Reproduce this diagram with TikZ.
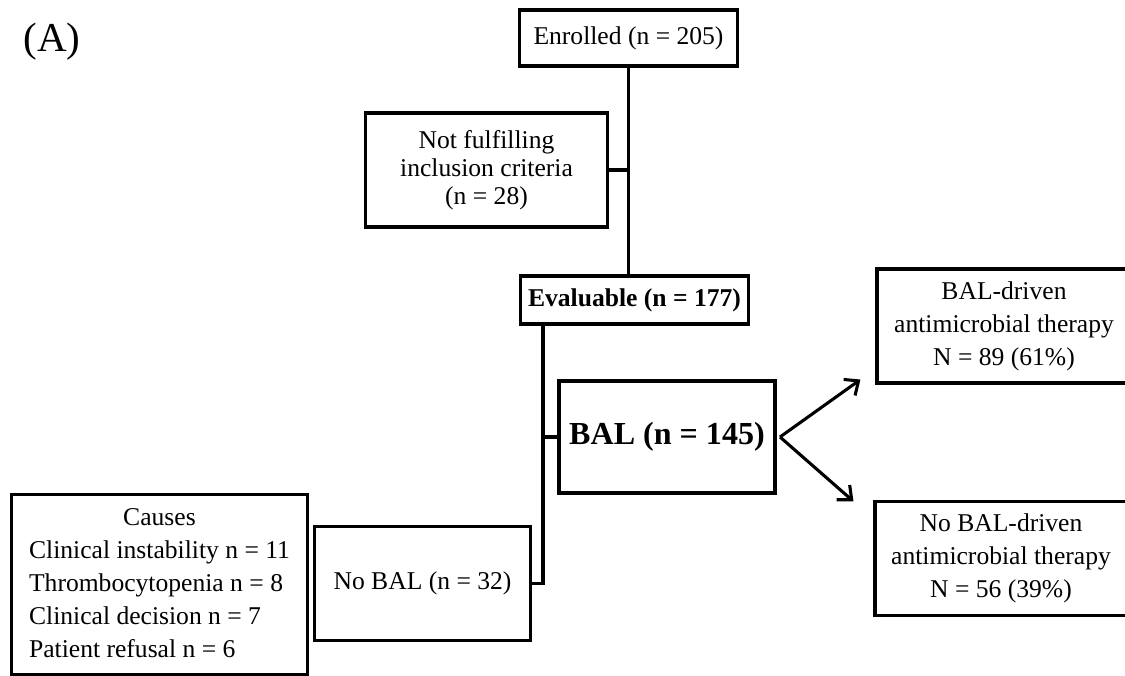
\documentclass[tikz,border=0pt]{standalone}
\usepackage{fontspec}
\setmainfont{Liberation Serif}
\usepackage{tikz}
\usetikzlibrary{arrows.meta}

\tikzset{
  box/.style={draw, line width=2.2pt, align=center, inner sep=2pt,
    font=\fontsize{18.2}{23.5}\selectfont},
  link/.style={line width=2.2pt},
  split/.style={line width=2.2pt, -{Straight Barb[length=8pt, width=14pt, line width=2.2pt]}}
}

\begin{document}
\begin{tikzpicture}[x=0.025cm, y=-0.025cm]
    \useasboundingbox (0,0) rectangle (1125,676);

    % panel label
    \node[inner sep=0, font=\fontsize{29.2}{32}\selectfont] (panel) at (52,42) {(A)};

    % screening boxes
    \node[box, minimum width=5.43cm, minimum height=1.40cm] (enrolled) at (628.5,38) {Enrolled (n = 205)};
    \node[box, minimum width=6.03cm, minimum height=2.85cm, font=\fontsize{18.2}{20}\selectfont] (excluded) at (486.5,170)
        {Not fulfilling\\inclusion criteria\\(n = 28)};
    \node[box, minimum width=5.68cm, minimum height=1.20cm, font=\fontsize{18.2}{23.5}\selectfont\bfseries] (evaluable) at (634.5,300)
        {Evaluable (n = 177)};

    % BAL / no BAL
    \node[box, minimum width=5.40cm, minimum height=2.80cm, font=\fontsize{22.8}{26}\selectfont\bfseries] (bal) at (667,437)
        {BAL (n = 145)};
    \node[box, minimum width=5.38cm, minimum height=2.83cm] (nobal) at (422.5,583.5) {No BAL (n = 32)};
    \node[box, minimum width=7.38cm, minimum height=4.48cm] (causes) at (159.5,584.5)
        {\begin{tabular}{@{}l@{}}
           \multicolumn{1}{@{}c@{}}{Causes}\\
           Clinical instability n = 11\\
           Thrombocytopenia n = 8\\
           Clinical decision n = 7\\
           Patient refusal n = 6
         \end{tabular}};

    % outcome boxes
    \node[box, minimum width=6.35cm, minimum height=2.85cm] (driven) at (1004,326)
        {BAL-driven\\antimicrobial therapy\\N = 89 (61\%)};
    \node[box, minimum width=6.30cm, minimum height=2.83cm] (notdriven) at (1001,558.5)
        {No BAL-driven\\antimicrobial therapy\\N = 56 (39\%)};

    % connectors
    \draw[link] (enrolled.south) -- (enrolled.south |- evaluable.north);
    \draw[link] (excluded.east) -- (excluded.east -| enrolled.south);
    \coordinate (stem) at (543,324);
    \draw[link] (stem) |- (nobal.east);
    \draw[link] (bal.west) -- (bal.west -| stem);

    % arrows to outcomes
    \coordinate (fork) at (780,437);
    \draw[split] (fork) -- ([shift={(-15,-5)}]driven.south west);
    \draw[split] (fork) -- ([shift={(-20,1)}]notdriven.north west);

\end{tikzpicture}
\end{document}
